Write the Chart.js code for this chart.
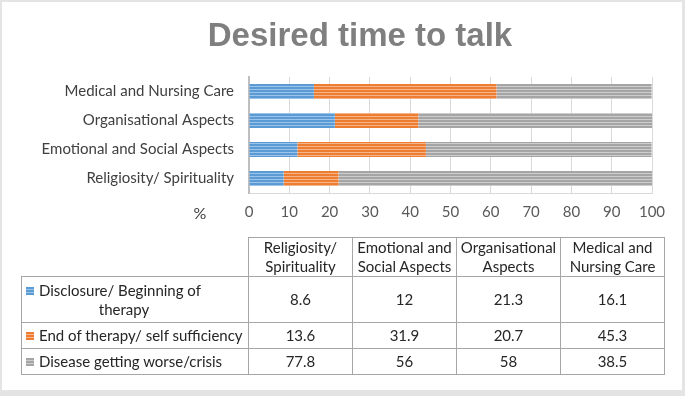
<!DOCTYPE html>
<html>
<head>
    <title>Desired time to talk</title>
    <script src="https://cdn.jsdelivr.net/npm/chart.js"></script>
    <style>
        body { margin: 0; background: #e4e4e4; }
        #frame { position: absolute; left: 2px; top: 2px; width: 680px; height: 388px; background: #fff; }
        #chartBox { position: absolute; left: 0; top: 0; width: 685px; height: 396px; }
        #dataTable {
            position: absolute; left: 21px; top: 237px;
            border-collapse: collapse; table-layout: fixed;
            font-family: Lato, sans-serif; font-size: 15px; color: #262626;
        }
        #dataTable td, #dataTable th {
            border: 1px solid #a6a6a6; padding: 0 1px; text-align: center;
            font-weight: normal; line-height: 19px;
        }
        #dataTable th.blank { border: none; }
        #dataTable td.name { text-align: left; padding-left: 4px; }
        #dataTable td.name.wrap { text-align-last: center; padding-right: 26px; }
        .key { display: inline-block; width: 8px; height: 8px; margin-right: 5px; vertical-align: 1px; }
    </style>
</head>
<body>
    <div id="frame"></div>
    <div id="chartBox"><canvas id="barChart" width="685" height="396"></canvas></div>
    <table id="dataTable"></table>

    <script>
        const titleText = 'Desired time to talk';
        const categories = ['Religiosity/ Spirituality', 'Emotional and Social Aspects', 'Organisational Aspects', 'Medical and Nursing Care'];
        const seriesNames = ['Disclosure/ Beginning of therapy', 'End of therapy/ self sufficiency', 'Disease getting worse/crisis'];
        const disclosure = [8.6, 12, 21.3, 16.1];
        const endOfTherapy = [13.6, 31.9, 20.7, 45.3];
        const gettingWorse = [77.8, 56, 58, 38.5];
        const seriesColors = [['#5b9bd5', '#9cc3e8'], ['#ed7d31', '#f6b48a'], ['#a5a5a5', '#cdcdcd']];

        // thin horizontal stripes like the original fill texture
        function stripes(base, light) {
            const c = document.createElement('canvas');
            c.width = 4; c.height = 3;
            const g = c.getContext('2d');
            g.fillStyle = base; g.fillRect(0, 0, 4, 3);
            g.fillStyle = light; g.fillRect(0, 2, 4, 1);
            return g.createPattern(c, 'repeat');
        }

        const seriesData = [disclosure, endOfTherapy, gettingWorse];

        const extraText = {
            id: 'extraText',
            afterDraw(chart) {
                const ctx = chart.ctx;
                ctx.save();
                ctx.textAlign = 'center';
                ctx.font = 'bold 33px "Liberation Sans"';
                ctx.fillStyle = '#7f7f7f';
                ctx.fillText(titleText, 360, 46);
                ctx.font = '16px Lato';
                ctx.fillStyle = '#404040';
                ctx.fillText('%', 200, 219);
                ctx.restore();
            }
        };

        new Chart(document.getElementById('barChart'), {
            type: 'bar',
            data: {
                labels: categories,
                datasets: seriesNames.map((name, i) => ({
                    label: name,
                    data: seriesData[i],
                    backgroundColor: stripes(seriesColors[i][0], seriesColors[i][1]),
                    barPercentage: 0.52,
                    categoryPercentage: 1
                }))
            },
            options: {
                indexAxis: 'y',
                responsive: false,
                animation: false,
                layout: { padding: { left: 0, right: 33, top: 77, bottom: 163 } },
                plugins: { legend: { display: false }, tooltip: { enabled: false } },
                scales: {
                    x: {
                        stacked: true, min: 0, max: 100,
                        ticks: { stepSize: 10, padding: 10, color: '#595959', font: { family: 'Lato', size: 15 } },
                        grid: { color: '#d9d9d9', drawTicks: false },
                        border: { color: '#d9d9d9' },
                        afterFit(scale) { scale.height = 40; }
                    },
                    y: {
                        stacked: true, reverse: true,
                        ticks: { padding: 15, color: '#404040', font: { family: 'Lato', size: 15 } },
                        grid: { display: false, drawTicks: false },
                        border: { color: '#bfbfbf', width: 2 },
                        afterFit(scale) { scale.width = 249; }
                    }
                }
            },
            plugins: [extraText]
        });

        // data table under the chart
        const table = document.getElementById('dataTable');
        let html = '<colgroup><col style="width:227px">' + categories.map(() => '<col style="width:104px">').join('') + '</colgroup>';
        html += '<tr style="height:39px"><th class="blank"></th>' + categories.map(c => `<th>${c}</th>`).join('') + '</tr>';
        seriesNames.forEach((name, i) => {
            const h = i === 0 ? 46 : 26;
            const cls = i === 0 ? 'name wrap' : 'name';
            const key = `<span class="key" style="background: repeating-linear-gradient(to bottom, ${seriesColors[i][0]} 0 2px, ${seriesColors[i][1]} 2px 3px)"></span>`;
            html += `<tr style="height:${h}px"><td class="${cls}">${key}${name}</td>` + seriesData[i].map(v => `<td>${v}</td>`).join('') + '</tr>';
        });
        table.innerHTML = html;
    </script>
</body>
</html>
